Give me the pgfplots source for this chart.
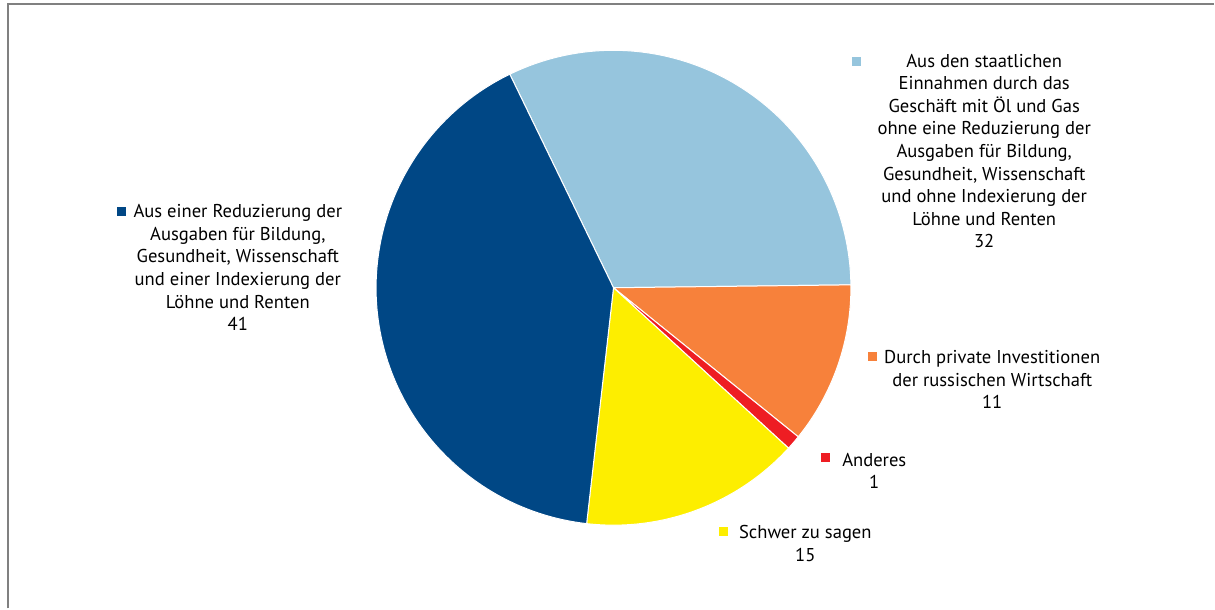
\documentclass[border=0pt]{standalone}
\usepackage{pgfplots}
\pgfplotsset{compat=1.18}
\usepackage{fontspec}
\setmainfont{PT Sans}
\definecolor{cDark}{HTML}{004785}
\definecolor{cLight}{HTML}{96C5DD}
\definecolor{cOrange}{HTML}{F7813B}
\definecolor{cRed}{HTML}{EE1D23}
\definecolor{cYellow}{HTML}{FDEE00}
\definecolor{cFrame}{HTML}{808080}
% values (percent)
\def\vLight{32}
\def\vOrange{11}
\def\vRed{1}
\def\vYellow{15}
\def\vDark{41}
\def\startang{115.9}
\pgfmathsetmacro\aA{\startang}
\pgfmathsetmacro\aB{\aA-3.6*\vLight}
\pgfmathsetmacro\aC{\aB-3.6*\vOrange}
\pgfmathsetmacro\aD{\aC-3.6*\vRed}
\pgfmathsetmacro\aE{\aD-3.6*\vYellow}
\begin{document}
\begin{tikzpicture}
\begin{axis}[scale only axis, width=607.5pt, height=304.5pt,
  xmin=0, xmax=1215, ymin=0, ymax=609, hide axis, clip=false]
\path (axis cs:0,0) (axis cs:1215,609);
\draw[cFrame, line width=1pt] (axis cs:8.5,0) -- (axis cs:8.5,604.5) -- (axis cs:1215,604.5);
\def\R{118.8pt}
\fill[cLight, draw=white, line width=0.5pt] (axis cs:614,321) -- ++(\aA:\R) arc[start angle=\aA, delta angle=-3.6*\vLight, radius=\R] -- cycle;
\fill[cOrange, draw=white, line width=0.5pt] (axis cs:614,321) -- ++(\aB:\R) arc[start angle=\aB, delta angle=-3.6*\vOrange, radius=\R] -- cycle;
\fill[cRed, draw=white, line width=0.5pt] (axis cs:614,321) -- ++(\aC:\R) arc[start angle=\aC, delta angle=-3.6*\vRed, radius=\R] -- cycle;
\fill[cYellow, draw=white, line width=0.5pt] (axis cs:614,321) -- ++(\aD:\R) arc[start angle=\aD, delta angle=-3.6*\vYellow, radius=\R] -- cycle;
\fill[cDark, draw=white, line width=0.5pt] (axis cs:614,321) -- ++(\aE:\R) arc[start angle=\aE, delta angle=-3.6*\vDark, radius=\R] -- cycle;
% markers
\fill[cDark] (axis cs:122,397) ++(-2.25pt,-2.25pt) rectangle ++(4.5pt,4.5pt);
\fill[cLight] (axis cs:857,547) ++(-2.25pt,-2.25pt) rectangle ++(4.5pt,4.5pt);
\fill[cOrange] (axis cs:873,252) ++(-2.25pt,-2.25pt) rectangle ++(4.5pt,4.5pt);
\fill[cRed] (axis cs:826,151) ++(-2.25pt,-2.25pt) rectangle ++(4.5pt,4.5pt);
\fill[cYellow] (axis cs:724,77) ++(-2.25pt,-2.25pt) rectangle ++(4.5pt,4.5pt);
% labels (anchor=base = baseline of last line)
\tikzset{lab/.style={align=center, anchor=base, inner sep=0pt, font=\fontsize{9.3}{11.3}\selectfont}}
\node[lab] at (axis cs:238,278) {Aus einer Reduzierung der\\Ausgaben für Bildung,\\Gesundheit, Wissenschaft\\und einer Indexierung der\\Löhne und Renten\\41};
\node[lab] at (axis cs:985,361) {Aus den staatlichen\\Einnahmen durch das\\Geschäft mit Öl und Gas\\ohne eine Reduzierung der\\Ausgaben für Bildung,\\Gesundheit, Wissenschaft\\und ohne Indexierung der\\Löhne und Renten\\32};
\node[lab] at (axis cs:993,200) {Durch private Investitionen\\der russischen Wirtschaft\\11};
\node[lab] at (axis cs:875,120) {Anderes\\1};
\node[lab] at (axis cs:806,47) {Schwer zu sagen\\15};
\end{axis}
\end{tikzpicture}
\end{document}
